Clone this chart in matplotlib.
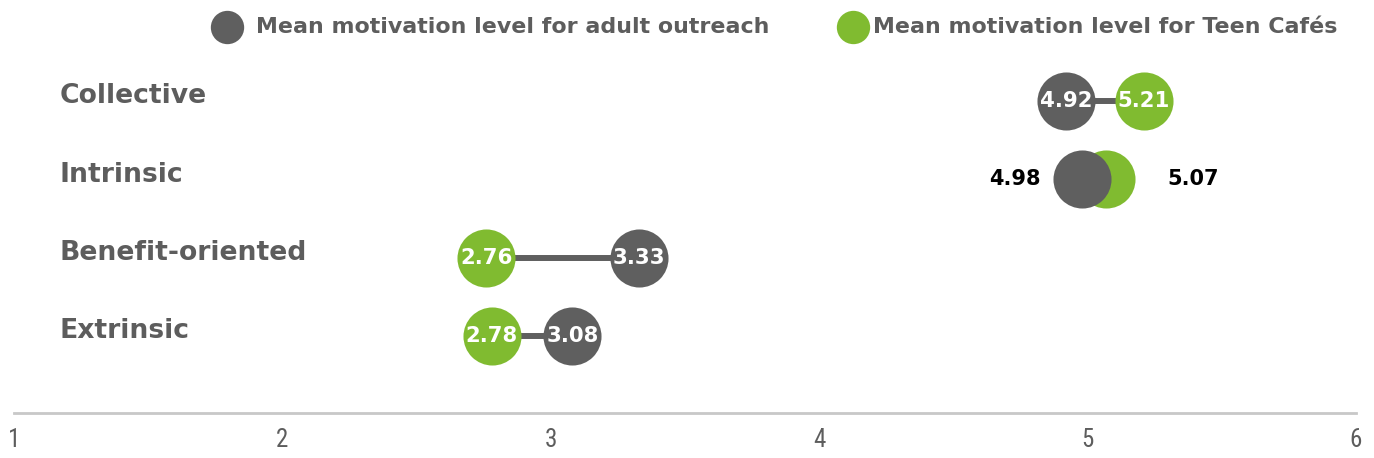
import matplotlib
matplotlib.use("Agg")
import matplotlib.pyplot as plt
from matplotlib import font_manager

# Motivation types, top to bottom
categories = ["Collective", "Intrinsic", "Benefit-oriented", "Extrinsic"]
adult_outreach = [4.92, 4.98, 3.33, 3.08]
teen_cafes = [5.21, 5.07, 2.76, 2.78]
x_ticks = [1, 2, 3, 4, 5, 6]
series_labels = ["Mean motivation level for adult outreach",
                 "Mean motivation level for Teen Cafés"]

GRAY = "#5f5f5f"
GREEN = "#80bb30"
TEXT_GRAY = "#5d5d5d"

# Pick a narrow face for the axis numbers if one is available
installed = {f.name for f in font_manager.fontManager.ttflist}
narrow = [n for n in ("Liberation Sans Narrow", "Roboto Condensed", "Open Sans Condensed")
          if n in installed]
tick_family = narrow + ["DejaVu Sans"]

W, H = 1374, 458
fig = plt.figure(figsize=(W / 100, H / 100), dpi=100)
ax = fig.add_axes([14 / W, 1 - 413 / H, (1356 - 14) / W, (413 - 40) / H])

n = len(categories)
ys = [n - 1 - i for i in range(n)]  # Collective at top
ax.set_xlim(1, 6)
ax.set_ylim(-0.98, 3.78)

marker_size = 41.8  # points (≈58 px diameter)

for y, cat, a, t in zip(ys, categories, adult_outreach, teen_cafes):
    overlap = abs(a - t) < 0.15
    if not overlap:
        ax.plot([a, t], [y, y], color=GRAY, lw=4.3, solid_capstyle="butt", zorder=1)
    ax.plot([t], [y], "o", ms=marker_size, color=GREEN, mec="none", zorder=2)
    ax.plot([a], [y], "o", ms=marker_size, color=GRAY, mec="none", zorder=3)
    if overlap:
        lo, hi = (a, t) if a < t else (t, a)
        ax.annotate(f"{lo:.2f}", xy=(lo, y), xytext=(-30, 0), textcoords="offset points",
                    ha="right", va="center", fontsize=15, fontweight="bold", color="black")
        ax.annotate(f"{hi:.2f}", xy=(hi, y), xytext=(44, 0), textcoords="offset points",
                    ha="left", va="center", fontsize=15, fontweight="bold", color="black")
    else:
        for v in (a, t):
            ax.text(v, y, f"{v:.2f}", ha="center", va="center", fontsize=15.3,
                    fontweight="bold", color="white", zorder=4)
    ax.annotate(cat, xy=(60 / W, y), xycoords=("figure fraction", "data"),
                xytext=(0, 3.5), textcoords="offset points",
                ha="left", va="center", fontsize=19.2, fontweight="bold", color=TEXT_GRAY)

# Axis styling
for side in ("top", "right", "left"):
    ax.spines[side].set_visible(False)
ax.spines["bottom"].set_color("#c8c8c8")
ax.spines["bottom"].set_linewidth(2)
ax.set_yticks([])
ax.set_xticks(x_ticks)
ax.set_xticklabels([str(v) for v in x_ticks], fontfamily=tick_family,
                   fontsize=18, color=TEXT_GRAY)
ax.tick_params(axis="x", length=0, pad=11)

# Legend drawn across the top
legend_y = 1 - 27 / H
for cx, tx, color, label in [(227, 256, GRAY, series_labels[0]),
                             (853, 873, GREEN, series_labels[1])]:
    fig.lines.append(plt.Line2D([cx / W], [legend_y], marker="o", ms=24, color=color,
                                mec="none", transform=fig.transFigure))
    fig.text(tx / W, legend_y, label, ha="left", va="center", fontsize=15.9,
             fontweight="bold", color=TEXT_GRAY)

fig.savefig("out.png", dpi=100)
